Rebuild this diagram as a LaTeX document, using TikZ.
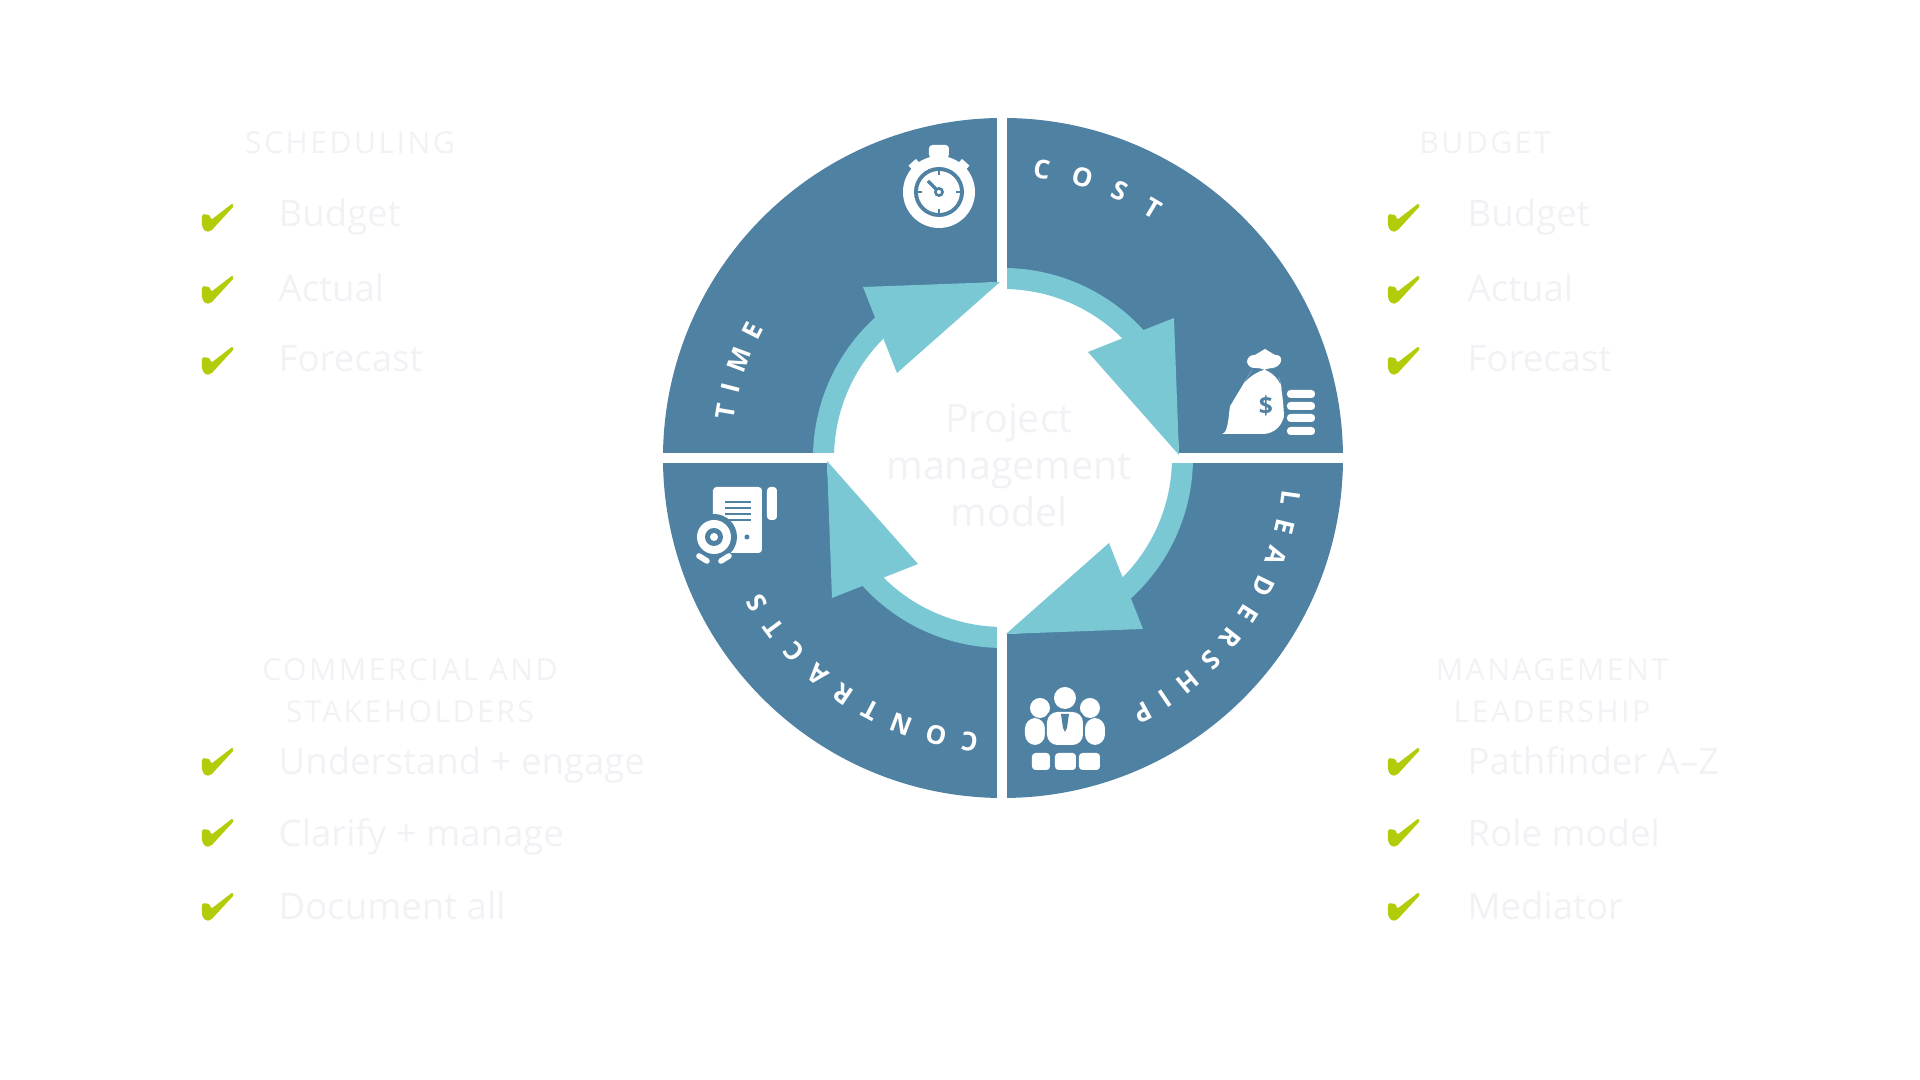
\documentclass[tikz,border=0pt]{standalone}
\usepackage{fontspec}
\setmainfont{Open Sans}
\newfontfamily\headfont[LetterSpace=8]{Open Sans}
\usetikzlibrary{decorations.text}
\definecolor{ringblue}{HTML}{4F81A3}
\definecolor{ringlight}{HTML}{79C8D4}
\definecolor{tickgreen}{HTML}{B2CC0A}
\definecolor{faintgrey}{HTML}{F1F2F5}
\newcommand{\ringfont}{\bfseries\fontsize{7.4}{9}\selectfont\color{white}}

\begin{document}
\begin{tikzpicture}[
    x=0.01cm, y=0.01cm,
    item/.style={anchor=base west, inner sep=0pt, text=faintgrey, font=\fontsize{10.4}{12}\selectfont},
    heading/.style={align=center, inner sep=0pt, text=faintgrey, font=\headfont\fontsize{8.6}{12}\selectfont},
    tick/.pic={\fill[tickgreen, rounded corners=0.5pt] (-5,18) -- (3,17) -- (4,12) -- (26,29) -- (27,26) -- (4,1) -- (-1,0) -- (-5,5) -- cycle;},
    ringlabel/.style={decorate, decoration={text along path, text align={fit to path}, text={#1}}}
]
    \useasboundingbox (-1003,-622) rectangle (917,458);
    % wheel
    \fill[ringblue] (0,0) circle[radius=340];
    \fill[white] (0,0) circle[radius=176];
    \foreach \a in {0,-90,-180,-270}
        \fill[ringlight, rotate=\a] (180:190) arc[start angle=180, end angle=128, radius=190] -- (128:169) arc[start angle=128, end angle=180, radius=169] -- cycle;
    \fill[white] (-6,160) rectangle (4,345);
    \fill[white] (-6,-160) rectangle (4,-345);
    \fill[white] (160,-5) rectangle (345,5);
    \fill[white] (-160,-5) rectangle (-345,5);
    \foreach \a in {0,-90,-180,-270}
        \fill[ringlight, rotate=\a] (-3,176) -- (-140,171) -- (-106,85) -- cycle;
    % wheel labels
    \path[ringlabel={|\ringfont|COST}] (84:282) arc[start angle=84, end angle=57.5, radius=282];
    \path[ringlabel={|\ringfont|LEADERSHIP}] (-6.5:281) arc[start angle=-6.5, end angle=-63, radius=281];
    \path[ringlabel={|\ringfont|CONTRACTS}] (-95:276) arc[start angle=-95, end angle=-151, radius=276];
    \path[ringlabel={|\ringfont|TIME}] (172:272) arc[start angle=172, end angle=151.5, radius=272];
    % stopwatch
    \begin{scope}[shift={(-64,266)}]
        \fill[white] (0,0) circle[radius=36];
        \fill[white, rounded corners=1pt] (-10,34) rectangle (10,47);
        \fill[white, rotate=42] (-5,33) rectangle (5,40);
        \fill[white, rotate=-42] (-5,33) rectangle (5,40);
        \fill[ringblue] (0,0) circle[radius=25];
        \fill[white] (0,0) circle[radius=21];
        \foreach \t in {0,90,180,270}
            \fill[ringblue, rotate=\t] (-1,17) rectangle (1,21);
        \draw[ringblue, line width=1pt] (0,0) -- (-11,11);
        \fill[ringblue] (0,0) circle[radius=5];
        \fill[white] (0,0) circle[radius=2];
    \end{scope}
    % money bag
    \fill[white, rounded corners=2pt] (244,103) -- (280,103) -- (276,90) -- (244,90) -- cycle;
    \fill[white] (252,103) -- (262,109) -- (272,103) -- cycle;
    \fill[white, rounded corners=6pt] (250,90) -- (274,90) -- (281,60) -- (281,24) -- (240,24) .. controls (226,24) and (226,50) .. (238,70) -- cycle;
    \node[text=ringblue, font=\bfseries\fontsize{7}{8}\selectfont, inner sep=0pt] (dollar) at (263,52) {\$};
    \foreach \y in {64,52,40,27}
        \fill[white, rounded corners=1pt] (284,\y-4) rectangle (312,\y+4);
    % contract sheet
    \fill[white, rounded corners=1pt] (-290,-29) rectangle (-241,-95);
    \fill[white, rounded corners=1pt] (-236,-29) rectangle (-226,-62);
    \foreach \y in {-44,-50,-56,-62}
        \fill[ringblue] (-278,\y-1) rectangle (-252,\y+1);
    \fill[ringblue] (-256,-79) circle[radius=2.5];
    \fill[ringblue] (-289,-79) circle[radius=23];
    \fill[white] (-289,-79) circle[radius=17];
    \fill[ringblue] (-289,-79) circle[radius=9];
    \fill[white] (-289,-79) circle[radius=4];
    \draw[white, line width=1.6pt, line cap=round] (-304,-98) -- (-296,-103);
    \draw[white, line width=1.6pt, line cap=round] (-274,-98) -- (-282,-103);
    % leadership people
    \fill[white] (37,-250) circle[radius=10];
    \fill[white] (87,-250) circle[radius=10];
    \fill[white, rounded corners=3pt] (22,-260) rectangle (42,-287);
    \fill[white, rounded corners=3pt] (82,-260) rectangle (102,-287);
    \fill[ringblue] (62,-240) circle[radius=13];
    \fill[white] (62,-240) circle[radius=11];
    \fill[ringblue, rounded corners=3pt] (42,-252) rectangle (82,-289);
    \fill[white, rounded corners=3pt] (44,-254) rectangle (80,-287);
    \fill[ringblue] (58,-256) -- (66,-256) -- (64,-270) -- (62,-274) -- (60,-270) -- cycle;
    \fill[white, rounded corners=1pt] (29,-295) rectangle (47,-312);
    \fill[white, rounded corners=1pt] (52,-295) rectangle (73,-312);
    \fill[white, rounded corners=1pt] (76,-295) rectangle (97,-312);
    % centre text
    \node[align=center, inner sep=0pt, text=faintgrey, font=\fontsize{11.2}{13.4}\selectfont] (centre) at (6,-7) {Project\\management\\model};
    % headings
    \node[heading] (schedule) at (-653,315) {SCHEDULING};
    \node[heading] (budget) at (482,315) {BUDGET};
    \node[heading] (commercial) at (-593,-233) {COMMERCIAL AND\\STAKEHOLDERS};
    \node[heading] (management) at (549,-233) {MANAGEMENT\\LEADERSHIP};
    % lists
    \foreach \n/\cx/\tx/\cy/\by/\txt in {
        a/-796/-725/226/231/Budget, b/-796/-725/154/156/Actual, c/-796/-725/83/86/Forecast,
        d/390/464/226/231/Budget, e/390/464/154/156/Actual, f/390/464/83/86/Forecast,
        g/-796/-725/-318/-317/Understand + engage, h/-796/-725/-389/-389/Clarify + manage, i/-796/-725/-463/-462/Document all,
        j/390/464/-318/-317/Pathfinder A--Z, k/390/464/-389/-389/Role model, l/390/464/-463/-462/Mediator}{
        \pic at (\cx,\cy) {tick};
        \node[item] (item\n) at (\tx,\by) {\txt};
    }
\end{tikzpicture}
\end{document}
